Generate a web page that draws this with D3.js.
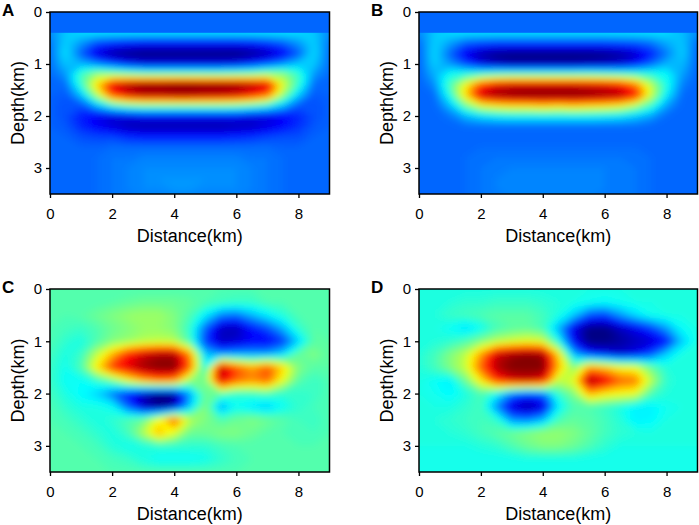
<!DOCTYPE html>
<html><head><meta charset="utf-8">
<script src="https://cdn.jsdelivr.net/npm/d3@7"></script>
<style>
body{margin:0;background:#fff}
svg{display:block}
text{font-family:Arial,"Liberation Sans",Helvetica,sans-serif;fill:#000}
</style>
</head><body>
<svg id="chart" width="699" height="525"></svg>
<script>
// ---------- tick labels / axes ----------
const distanceTicks = [0, 2, 4, 6, 8];
const depthTicks = [0, 1, 2, 3];
const distanceDomain = [0, 9];
const depthDomain = [0, 3.5];
const panelLetters = ["A", "B", "C", "D"];

// ---------- grid coordinates (km) ----------
const gridDistance = [0,0.5,1,1.5,2,2.5,3,3.5,4,4.5,5,5.5,6,6.5,7,7.5,8,8.5,9];
const gridDepthAB = [0.4,0.6,0.8,1.0,1.2,1.4,1.6,1.8,2.0,2.2,2.4,2.6,2.8,3.0,3.2,3.4,3.6];
const gridDepthCD = [0,0.25,0.5,0.75,1.0,1.25,1.5,1.75,2.0,2.25,2.5,2.75,3.0,3.25,3.5];

// surface layer (0 - 0.4 km) value for panels A and B
const surfaceLayerDepth = 0.4;
const surfaceValueA = 0.225;
const surfaceValueB = 0.225;

// ---------- panel A : one array per distance column (depth 0.4 .. 3.6) ----------
const panelAColumns = [
 [0.26,0.24,0.23,0.23,0.23,0.22,0.22,0.22,0.22,0.22,0.22,0.22,0.22,0.22,0.22,0.22,0.22],
 [0.32,0.33,0.35,0.32,0.27,0.23,0.21,0.20,0.20,0.21,0.22,0.22,0.22,0.22,0.22,0.22,0.22],
 [0.34,0.27,0.21,0.30,0.44,0.42,0.31,0.20,0.15,0.16,0.20,0.22,0.22,0.22,0.22,0.22,0.22],
 [0.35,0.19,0.09,0.25,0.53,0.66,0.54,0.30,0.11,0.12,0.19,0.22,0.23,0.23,0.23,0.23,0.23],
 [0.35,0.16,0.03,0.19,0.52,0.90,0.80,0.40,0.09,0.08,0.19,0.23,0.24,0.24,0.24,0.24,0.24],
 [0.35,0.14,0.01,0.13,0.50,0.96,0.90,0.45,0.10,0.05,0.16,0.23,0.24,0.25,0.25,0.25,0.24],
 [0.35,0.13,0.00,0.10,0.48,0.99,0.94,0.47,0.12,0.04,0.15,0.23,0.25,0.26,0.26,0.26,0.25],
 [0.35,0.13,0.00,0.10,0.48,0.99,0.94,0.47,0.12,0.04,0.15,0.23,0.25,0.26,0.27,0.26,0.25],
 [0.35,0.13,0.00,0.10,0.48,1.00,0.95,0.47,0.12,0.04,0.15,0.23,0.25,0.26,0.27,0.27,0.25],
 [0.35,0.13,0.00,0.10,0.48,1.00,0.95,0.47,0.12,0.04,0.15,0.23,0.25,0.26,0.27,0.27,0.25],
 [0.35,0.13,0.00,0.10,0.48,0.99,0.94,0.47,0.12,0.04,0.15,0.23,0.25,0.26,0.27,0.26,0.25],
 [0.35,0.13,0.00,0.10,0.48,0.99,0.93,0.47,0.12,0.04,0.15,0.23,0.25,0.26,0.26,0.26,0.25],
 [0.35,0.13,0.00,0.11,0.49,0.98,0.91,0.46,0.12,0.05,0.16,0.23,0.25,0.26,0.26,0.26,0.25],
 [0.35,0.14,0.02,0.15,0.50,0.95,0.86,0.43,0.10,0.06,0.17,0.23,0.24,0.25,0.25,0.25,0.24],
 [0.35,0.17,0.05,0.20,0.53,0.91,0.77,0.39,0.10,0.09,0.19,0.23,0.24,0.24,0.24,0.24,0.24],
 [0.35,0.21,0.11,0.26,0.52,0.60,0.52,0.31,0.12,0.13,0.20,0.22,0.23,0.23,0.23,0.23,0.23],
 [0.34,0.27,0.21,0.32,0.43,0.42,0.32,0.21,0.16,0.17,0.20,0.22,0.22,0.22,0.22,0.22,0.22],
 [0.32,0.33,0.34,0.32,0.27,0.23,0.21,0.20,0.20,0.21,0.22,0.22,0.22,0.22,0.22,0.22,0.22],
 [0.26,0.24,0.23,0.23,0.23,0.22,0.22,0.22,0.22,0.22,0.22,0.22,0.22,0.22,0.22,0.22,0.22]
];

// ---------- panel B : one array per distance column (depth 0.4 .. 3.6) ----------
const panelBColumns = [
 [0.26,0.23,0.22,0.22,0.22,0.22,0.22,0.22,0.22,0.22,0.22,0.22,0.22,0.22,0.22,0.22,0.22],
 [0.32,0.33,0.34,0.33,0.30,0.26,0.23,0.22,0.22,0.22,0.22,0.22,0.22,0.22,0.22,0.22,0.22],
 [0.34,0.28,0.22,0.27,0.39,0.45,0.40,0.31,0.24,0.22,0.22,0.22,0.22,0.22,0.22,0.22,0.22],
 [0.35,0.21,0.11,0.19,0.41,0.62,0.66,0.48,0.30,0.23,0.22,0.22,0.23,0.23,0.23,0.23,0.23],
 [0.35,0.19,0.04,0.10,0.43,0.82,0.92,0.60,0.34,0.23,0.22,0.23,0.23,0.24,0.24,0.24,0.24],
 [0.35,0.18,0.01,0.06,0.45,0.90,0.97,0.64,0.36,0.23,0.22,0.23,0.24,0.24,0.25,0.25,0.24],
 [0.35,0.18,0.00,0.04,0.46,0.92,0.99,0.66,0.37,0.23,0.22,0.23,0.24,0.25,0.25,0.25,0.25],
 [0.35,0.18,0.00,0.04,0.46,0.92,1.00,0.66,0.37,0.23,0.22,0.23,0.24,0.25,0.25,0.25,0.25],
 [0.35,0.18,0.00,0.04,0.46,0.92,1.00,0.68,0.37,0.23,0.22,0.23,0.24,0.25,0.25,0.25,0.25],
 [0.35,0.18,0.00,0.04,0.46,0.92,1.00,0.66,0.37,0.23,0.22,0.23,0.24,0.25,0.25,0.25,0.25],
 [0.35,0.18,0.00,0.04,0.46,0.92,1.00,0.68,0.37,0.23,0.22,0.23,0.24,0.25,0.25,0.25,0.25],
 [0.35,0.18,0.00,0.05,0.46,0.91,0.99,0.66,0.37,0.23,0.22,0.23,0.24,0.25,0.25,0.25,0.25],
 [0.35,0.18,0.01,0.06,0.45,0.90,0.97,0.65,0.36,0.23,0.22,0.23,0.24,0.25,0.25,0.25,0.24],
 [0.35,0.19,0.03,0.08,0.44,0.87,0.95,0.62,0.35,0.23,0.22,0.23,0.24,0.24,0.24,0.24,0.24],
 [0.35,0.20,0.07,0.13,0.43,0.76,0.86,0.54,0.32,0.23,0.22,0.23,0.23,0.24,0.24,0.24,0.24],
 [0.35,0.23,0.15,0.22,0.41,0.56,0.58,0.43,0.28,0.22,0.22,0.22,0.23,0.23,0.23,0.23,0.23],
 [0.34,0.29,0.24,0.30,0.38,0.40,0.36,0.28,0.23,0.22,0.22,0.22,0.22,0.22,0.22,0.22,0.22],
 [0.31,0.32,0.33,0.31,0.28,0.25,0.23,0.22,0.22,0.22,0.22,0.22,0.22,0.22,0.22,0.22,0.22],
 [0.26,0.23,0.22,0.22,0.22,0.22,0.22,0.22,0.22,0.22,0.22,0.22,0.22,0.22,0.22,0.22,0.22]
];

// ---------- panel C : one array per depth row (distance 0 .. 9) ----------
const panelCRows = [
 [0.45,0.45,0.45,0.45,0.45,0.45,0.45,0.45,0.45,0.45,0.45,0.45,0.45,0.45,0.45,0.45,0.45,0.45,0.45],
 [0.45,0.45,0.45,0.45,0.46,0.47,0.48,0.48,0.48,0.47,0.45,0.44,0.43,0.43,0.45,0.45,0.45,0.45,0.45],
 [0.45,0.45,0.46,0.48,0.50,0.52,0.53,0.53,0.50,0.45,0.36,0.25,0.23,0.30,0.36,0.41,0.45,0.45,0.45],
 [0.45,0.44,0.43,0.45,0.48,0.50,0.52,0.52,0.50,0.42,0.22,0.06,0.05,0.14,0.20,0.30,0.42,0.46,0.45],
 [0.45,0.42,0.40,0.45,0.50,0.52,0.55,0.56,0.55,0.44,0.18,0.06,0.08,0.12,0.12,0.18,0.33,0.46,0.46],
 [0.44,0.40,0.43,0.56,0.70,0.85,0.92,0.96,0.96,0.74,0.32,0.26,0.28,0.28,0.28,0.34,0.47,0.50,0.46],
 [0.43,0.39,0.45,0.64,0.82,0.90,0.97,1.00,1.00,0.78,0.38,0.95,0.80,0.72,0.80,0.66,0.50,0.46,0.46],
 [0.43,0.38,0.38,0.42,0.48,0.60,0.70,0.76,0.74,0.52,0.48,0.92,0.78,0.74,0.78,0.60,0.46,0.43,0.45],
 [0.44,0.40,0.37,0.33,0.24,0.15,0.06,0.00,0.02,0.28,0.48,0.46,0.42,0.43,0.45,0.42,0.42,0.43,0.45],
 [0.45,0.42,0.40,0.40,0.38,0.22,0.06,0.00,0.05,0.32,0.50,0.28,0.38,0.35,0.32,0.38,0.42,0.44,0.45],
 [0.45,0.44,0.42,0.40,0.42,0.45,0.48,0.62,0.80,0.56,0.50,0.45,0.48,0.50,0.48,0.46,0.44,0.43,0.45],
 [0.45,0.45,0.44,0.42,0.40,0.44,0.55,0.70,0.60,0.48,0.48,0.50,0.50,0.48,0.46,0.45,0.44,0.44,0.45],
 [0.45,0.45,0.45,0.44,0.41,0.39,0.40,0.42,0.42,0.42,0.42,0.44,0.45,0.45,0.45,0.45,0.45,0.45,0.45],
 [0.45,0.45,0.45,0.45,0.44,0.43,0.40,0.38,0.38,0.38,0.39,0.42,0.44,0.45,0.45,0.45,0.45,0.45,0.45],
 [0.45,0.45,0.45,0.45,0.45,0.45,0.45,0.45,0.45,0.45,0.45,0.45,0.45,0.45,0.45,0.45,0.45,0.45,0.45]
];

// ---------- panel D : one array per depth row (distance 0 .. 9) ----------
const panelDRows = [
 [0.40,0.40,0.40,0.40,0.40,0.40,0.40,0.40,0.40,0.40,0.40,0.40,0.40,0.40,0.40,0.40,0.40,0.40,0.40],
 [0.40,0.40,0.41,0.42,0.42,0.43,0.43,0.43,0.42,0.41,0.40,0.39,0.38,0.39,0.40,0.40,0.40,0.40,0.40],
 [0.40,0.41,0.43,0.44,0.45,0.46,0.46,0.46,0.44,0.40,0.32,0.20,0.18,0.27,0.34,0.39,0.40,0.40,0.40],
 [0.40,0.40,0.38,0.34,0.38,0.44,0.46,0.47,0.44,0.30,0.10,0.00,0.00,0.06,0.11,0.18,0.28,0.38,0.40],
 [0.40,0.41,0.42,0.45,0.50,0.55,0.58,0.60,0.58,0.40,0.12,0.00,0.00,0.03,0.06,0.08,0.14,0.32,0.40],
 [0.41,0.44,0.50,0.56,0.72,0.92,0.97,0.99,0.97,0.66,0.30,0.16,0.12,0.08,0.11,0.20,0.33,0.40,0.40],
 [0.41,0.44,0.50,0.57,0.78,0.95,1.00,1.00,1.00,0.70,0.50,0.72,0.68,0.62,0.60,0.48,0.41,0.40,0.40],
 [0.40,0.38,0.36,0.48,0.64,0.82,0.90,0.92,0.88,0.56,0.60,0.98,0.90,0.78,0.76,0.56,0.42,0.40,0.40],
 [0.40,0.39,0.37,0.40,0.45,0.38,0.24,0.18,0.22,0.42,0.50,0.70,0.64,0.62,0.60,0.45,0.41,0.40,0.40],
 [0.40,0.40,0.40,0.42,0.44,0.26,0.08,0.03,0.08,0.36,0.45,0.45,0.43,0.40,0.36,0.36,0.39,0.40,0.40],
 [0.40,0.41,0.42,0.43,0.44,0.42,0.26,0.24,0.30,0.44,0.47,0.46,0.44,0.41,0.36,0.37,0.40,0.40,0.40],
 [0.40,0.40,0.41,0.42,0.44,0.46,0.48,0.50,0.52,0.52,0.50,0.47,0.44,0.42,0.41,0.40,0.40,0.40,0.40],
 [0.40,0.40,0.40,0.40,0.41,0.42,0.45,0.48,0.50,0.50,0.48,0.45,0.42,0.40,0.40,0.40,0.40,0.40,0.40],
 [0.39,0.39,0.39,0.39,0.39,0.39,0.39,0.40,0.40,0.40,0.40,0.39,0.39,0.39,0.39,0.39,0.39,0.39,0.39],
 [0.39,0.39,0.39,0.39,0.39,0.39,0.39,0.39,0.39,0.39,0.39,0.39,0.39,0.39,0.39,0.39,0.39,0.39,0.39]
];

// ---------- helpers ----------
function columnsToRowMajor(cols){
  const n = cols.length, m = cols[0].length, v = new Array(n*m);
  for (let j = 0; j < m; j++) for (let i = 0; i < n; i++) v[j*n + i] = cols[i][j];
  return v;
}
const jet = d3.scaleLinear()
  .domain([0, 0.125, 0.375, 0.625, 0.875, 1])
  .range(["#000080", "#0000ff", "#00ffff", "#ffff00", "#ff0000", "#800000"])
  .clamp(true);

const panels = [
  {letter: panelLetters[0], box: {l: 50,  r: 329.5, t: 12,  b: 194}, depths: gridDepthAB, values: columnsToRowMajor(panelAColumns), surface: surfaceValueA},
  {letter: panelLetters[1], box: {l: 419, r: 697.5, t: 12,  b: 194}, depths: gridDepthAB, values: columnsToRowMajor(panelBColumns), surface: surfaceValueB},
  {letter: panelLetters[2], box: {l: 50,  r: 329.5, t: 289, b: 472}, depths: gridDepthCD, values: panelCRows.flat(), surface: null},
  {letter: panelLetters[3], box: {l: 419, r: 697.5, t: 289, b: 472}, depths: gridDepthCD, values: panelDRows.flat(), surface: null}
];

const svg = d3.select("#chart");
const defs = svg.append("defs");
const step = 0.01;
const thresholds = d3.range(0, 1.0, step);

panels.forEach((p, k) => {
  const x = d3.scaleLinear().domain(distanceDomain).range([p.box.l, p.box.r]);
  const y = d3.scaleLinear().domain(depthDomain).range([p.box.t, p.box.b]);
  const n = gridDistance.length, m = p.depths.length;
  const dx = gridDistance[1] - gridDistance[0];
  const dy = p.depths[1] - p.depths[0];
  const w = p.box.r - p.box.l, h = p.box.b - p.box.t;

  defs.append("clipPath").attr("id", "clip" + k)
    .append("rect").attr("x", p.box.l).attr("y", p.box.t)
    .attr("width", w).attr("height", h);
  defs.append("filter").attr("id", "soft" + k)
    .attr("filterUnits", "userSpaceOnUse")
    .attr("x", p.box.l - 40).attr("y", p.box.t - 40)
    .attr("width", w + 80).attr("height", h + 80)
    .append("feGaussianBlur").attr("stdDeviation", 3.5);

  const g = svg.append("g");
  const clipped = g.append("g").attr("clip-path", `url(#clip${k})`);
  const field = clipped.append("g").attr("filter", `url(#soft${k})`);

  // grid index -> km (outer edge of the grid pushed outward so the edge colour continues)
  const gx = px => px <= 0 ? gridDistance[0] - 3 * dx
                 : px >= n ? gridDistance[n - 1] + 3 * dx
                 : gridDistance[0] + (px - 0.5) * dx;
  const gy = py => py <= 0 ? p.depths[0] - 3 * dy
                 : py >= m ? p.depths[m - 1] + 3 * dy
                 : p.depths[0] + (py - 0.5) * dy;
  const proj = d3.geoTransform({
    point(px, py) { this.stream.point(x(gx(px)), y(gy(py))); }
  });
  const path = d3.geoPath(proj);
  const contours = d3.contours().size([n, m]).thresholds(thresholds)(p.values);

  field.selectAll("path").data(contours).join("path")
    .attr("d", path)
    .attr("fill", d => jet(d.value + step / 2))
    .attr("stroke", d => jet(d.value + step / 2))
    .attr("stroke-width", 0.3);

  if (p.surface !== null) {
    clipped.append("rect")
      .attr("x", x(distanceDomain[0]) - 2).attr("y", y(0) - 2)
      .attr("width", x(distanceDomain[1]) - x(distanceDomain[0]) + 4)
      .attr("height", y(surfaceLayerDepth) - y(0) + 2)
      .attr("fill", jet(p.surface));
  }

  // frame
  g.append("rect")
    .attr("x", p.box.l).attr("y", p.box.t)
    .attr("width", w).attr("height", h)
    .attr("fill", "none").attr("stroke", "#000").attr("stroke-width", 1.5);

  // axes
  const xa = g.append("g").attr("transform", `translate(0,${p.box.b})`)
    .call(d3.axisBottom(x).tickValues(distanceTicks).tickSize(4).tickSizeOuter(0).tickPadding(10).tickFormat(d3.format("d")));
  const ya = g.append("g").attr("transform", `translate(${p.box.l},0)`)
    .call(d3.axisLeft(y).tickValues(depthTicks).tickSize(4).tickSizeOuter(0).tickPadding(4).tickFormat(d3.format("d")));
  [xa, ya].forEach(a => {
    a.select(".domain").remove();
    a.selectAll(".tick line").attr("stroke", "#000").attr("stroke-width", 1.3);
    a.selectAll(".tick text").attr("font-size", 15).attr("fill", "#000")
      .attr("font-family", "Arial, 'Liberation Sans', sans-serif");
  });

  // titles
  g.append("text")
    .attr("x", (p.box.l + p.box.r) / 2).attr("y", p.box.b + 48)
    .attr("text-anchor", "middle").attr("font-size", 18)
    .text("Distance(km)");
  g.append("text")
    .attr("transform", `translate(${p.box.l - 26},${(p.box.t + p.box.b) / 2}) rotate(-90)`)
    .attr("text-anchor", "middle").attr("font-size", 18)
    .text("Depth(km)");
  g.append("text")
    .attr("x", p.box.l - 48).attr("y", p.box.t + 4)
    .attr("font-size", 17).attr("font-weight", "bold")
    .text(p.letter);
});
</script>
</body></html>
